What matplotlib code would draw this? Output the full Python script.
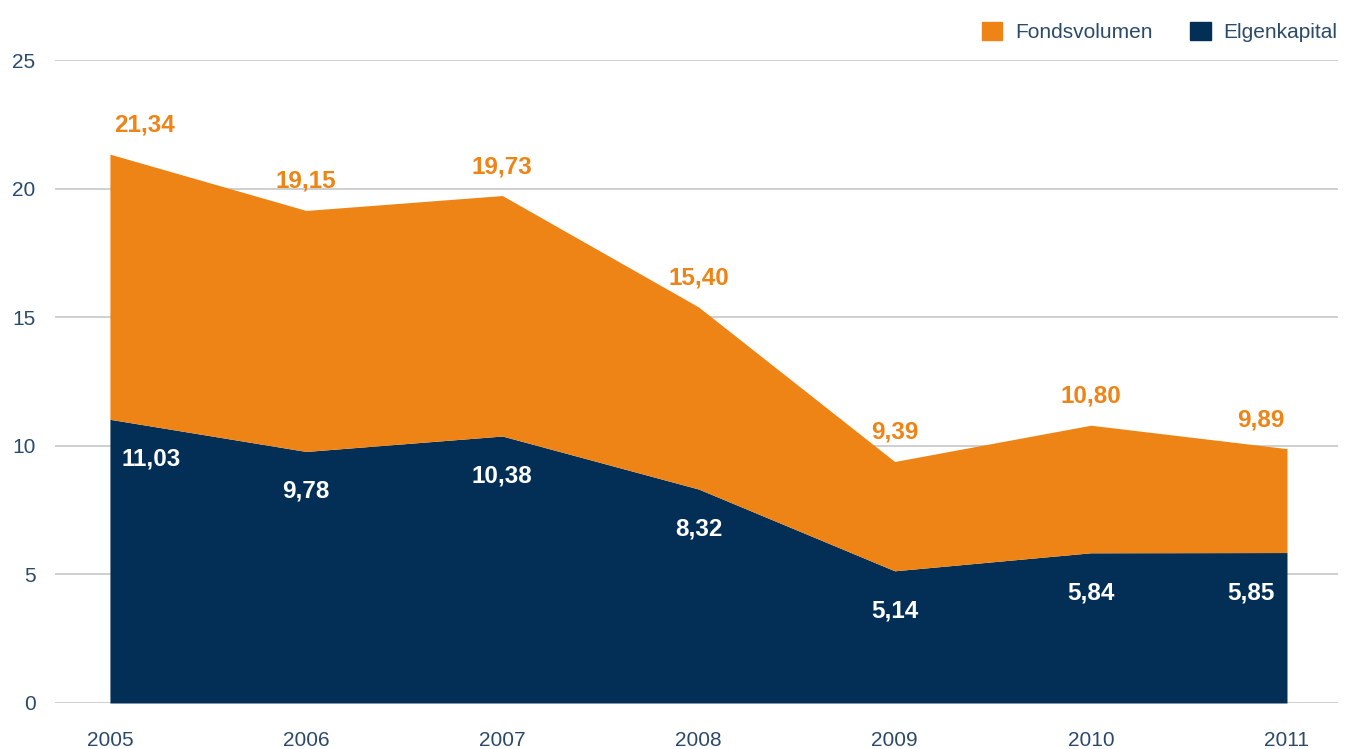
import matplotlib.pyplot as plt
from matplotlib.patches import Patch
from matplotlib import transforms

plt.rcParams['font.family'] = ['Liberation Sans', 'DejaVu Sans']

years = [2005, 2006, 2007, 2008, 2009, 2010, 2011]
fondsvolumen = [21.34, 19.15, 19.73, 15.40, 9.39, 10.80, 9.89]
eigenkapital = [11.03, 9.78, 10.38, 8.32, 5.14, 5.84, 5.85]
yticks = [0, 5, 10, 15, 20, 25]

orange = '#ee8416'
navy = '#032e55'
textcol = '#2b4a6b'

fig = plt.figure(figsize=(13.56, 7.49), dpi=100)
ax = fig.add_axes([55 / 1356, 1 - 703 / 749, (1338 - 55) / 1356, (703 - 60) / 749])

ax.fill_between(years, 0, eigenkapital, color=navy, linewidth=0, zorder=3)
ax.fill_between(years, eigenkapital, fondsvolumen, color=orange, linewidth=0, zorder=3)

ax.set_xlim(2005 - 0.28, 2011 + 0.26)
ax.set_ylim(0, 25)
ax.set_yticks(yticks)
ax.set_xticks(years)
ax.grid(axis='y', color='#cccccc', linewidth=1.3, zorder=0)
for s in ax.spines.values():
    s.set_visible(False)
ax.tick_params(length=0, labelsize=15, labelcolor=textcol)
ax.tick_params(axis='y', pad=14)
ax.tick_params(axis='x', pad=20)
for lbl in ax.get_yticklabels():
    lbl.set_horizontalalignment('right')

def fmt(v):
    return f'{v:.2f}'.replace('.', ',')

n = len(years)
for i, (x, tot, ek) in enumerate(zip(years, fondsvolumen, eigenkapital)):
    if i == 0:
        ha, dx, dx2 = 'left', 4, 12
    elif i == n - 1:
        ha, dx, dx2 = 'right', -2, -12
    else:
        ha, dx, dx2 = 'center', 0, 0
    tr = transforms.offset_copy(ax.transData, fig=fig, x=dx * 0.72, y=29 * 0.72, units='points')
    ax.text(x, tot, fmt(tot), color=orange, fontsize=17.5, fontweight='bold',
            ha=ha, va='center', transform=tr, zorder=5)
    tr2 = transforms.offset_copy(ax.transData, fig=fig, x=dx2 * 0.72, y=-40 * 0.72, units='points')
    ax.text(x, ek, fmt(ek), color='white', fontsize=17.5, fontweight='bold',
            ha=ha, va='center', transform=tr2, zorder=5)

handles = [Patch(color=orange, label='Fondsvolumen'), Patch(color=navy, label='Elgenkapital')]
fig.legend(handles=handles, loc='upper right', bbox_to_anchor=(1356 / 1356, 1 - 3 / 749),
           ncol=2, frameon=False, fontsize=15, handlelength=1.0, handleheight=1.0,
           handletextpad=0.6, columnspacing=1.8, labelcolor=textcol)

fig.savefig('out.png', dpi=100)
